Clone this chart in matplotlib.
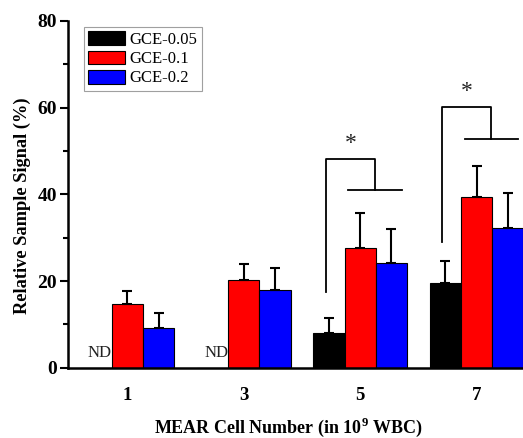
import matplotlib
matplotlib.use("Agg")
import matplotlib.pyplot as plt
import numpy as np

categories = ["1", "3", "5", "7"]
series_names = ["GCE-0.05", "GCE-0.1", "GCE-0.2"]
gce005 = [np.nan, np.nan, 8.1, 19.6]
gce01 = [14.8, 20.2, 27.7, 39.3]
gce02 = [9.2, 17.9, 24.2, 32.3]
gce005_err = [np.nan, np.nan, 3.3, 5.1]
gce01_err = [2.9, 3.7, 8.0, 7.2]
gce02_err = [3.5, 5.1, 7.8, 7.9]
nd_groups = [0, 1]
sig_groups = [2, 3]
sig_top = [48.2, 60.1]
sig_low = [40.9, 52.7]
sig_left_bottom = [17.4, 29.0]

colors = ["#000000", "#ff0000", "#0000ff"]
plt.rcParams["font.family"] = ["Liberation Serif", "DejaVu Serif"]
plt.rcParams["mathtext.fontset"] = "custom"
plt.rcParams["mathtext.bf"] = "Liberation Serif:bold"
plt.rcParams["mathtext.rm"] = "Liberation Serif"

fig = plt.figure(figsize=(5.23, 4.38), dpi=100)
ax = fig.add_axes([68/523, 1-367.7/438, 468/523, (367.7-21)/438])

x = np.arange(len(categories))
w = 0.269
vals = [gce005, gce01, gce02]
errs = [gce005_err, gce01_err, gce02_err]
for i, (v, e, c, n) in enumerate(zip(vals, errs, colors, series_names)):
    pos = x + (i - 1) * w
    v = np.array(v, float)
    e = np.array(e, float)
    ax.bar(pos, np.nan_to_num(v), w, color=c, edgecolor="black", linewidth=0.8, label=n, zorder=2)
    m = ~np.isnan(v)
    ax.errorbar(pos[m], v[m], yerr=[np.zeros(m.sum()), e[m]], fmt="none", ecolor="black",
                elinewidth=1.5, capsize=3.5, capthick=1.5, zorder=3)

for g in nd_groups:
    ax.text(g - 0.5 * w, 1.5, "ND", ha="right", va="bottom", fontsize=12, color="#222222")

for g, top, low, lb in zip(sig_groups, sig_top, sig_low, sig_left_bottom):
    xl, xm, xs1, xs2 = g - 0.295, g + 0.126, g - 0.103, g + 0.357
    ax.plot([xl, xl, xm, xm], [lb, top, top, low], color="black", lw=1.3, zorder=4)
    ax.plot([xs1, xs2], [low, low], color="black", lw=1.3, zorder=4)
    ax.text(g - 0.085, top + 1.2, "*", ha="center", va="bottom", fontsize=17, color="#222222")

ax.set_xlim(-0.511, 3.511)
ax.set_ylim(0, 80)
ax.set_xticks(x)
ax.set_xticklabels(categories, fontweight="bold", fontsize=13.5)
ax.set_yticks([0, 20, 40, 60, 80])
ax.set_yticks([10, 30, 50, 70], minor=True)
for lbl in ax.get_yticklabels():
    lbl.set_fontweight("bold")
    lbl.set_fontsize(14)
ax.tick_params(axis="y", which="major", direction="out", length=6, width=1.5, pad=2)
ax.tick_params(axis="y", which="minor", direction="out", length=3.5, width=1.5)
ax.tick_params(axis="x", length=0, pad=14)
for s in ["top", "right"]:
    ax.spines[s].set_visible(False)
for s in ["left", "bottom"]:
    ax.spines[s].set_linewidth(1.8)

ax.set_ylabel("Relative Sample Signal (%)", fontweight="bold", fontsize=13.2)
ax.yaxis.set_label_coords((31 - 68) / 468, (367.7 - 206) / 346.7)
ax.set_xlabel("MEAR Cell Number (in 10$^{\\mathbf{9}}$ WBC)", fontweight="bold", fontsize=13)
ax.xaxis.label.set_va("center")
ax.xaxis.set_label_coords((288 - 68) / 468, -(427.5 - 367.7) / 346.7)

leg = ax.legend(loc="upper left", bbox_to_anchor=(0.034, 0.982), fontsize=12, frameon=True,
                fancybox=False, edgecolor="#888888", handlelength=2.2, handleheight=0.9,
                handletextpad=0.3, borderpad=0.25, labelspacing=0.15, borderaxespad=0)
leg.get_frame().set_linewidth(0.8)

fig.savefig("out.png", dpi=100)
